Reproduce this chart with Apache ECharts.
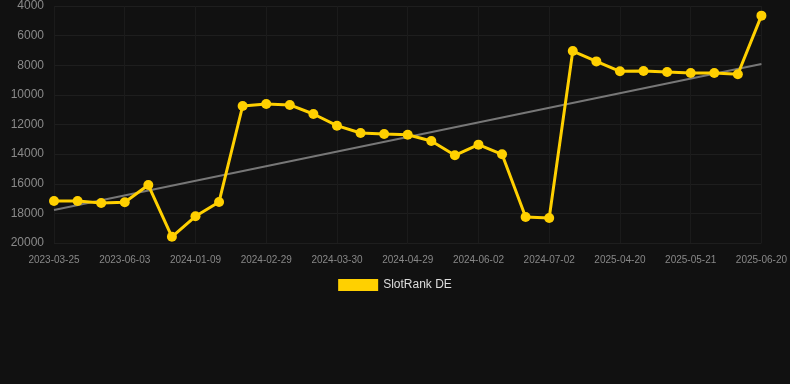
<!DOCTYPE html>
<html><head><meta charset="utf-8">
<script src="https://cdn.jsdelivr.net/npm/echarts@6/dist/echarts.min.js"></script>
<style>html,body{margin:0;padding:0;background:#111111;}#c{width:790px;height:384px;}</style>
</head><body><div id="c"></div>
<script>
const categories = ["2023-03-25","2023-04-18","2023-05-10","2023-06-03","2023-07-20","2023-10-15","2024-01-09","2024-01-27","2024-02-12","2024-02-29","2024-03-10","2024-03-20","2024-03-30","2024-04-09","2024-04-19","2024-04-29","2024-05-10","2024-05-21","2024-06-02","2024-06-12","2024-06-22","2024-07-02","2024-10-01","2025-01-15","2025-04-20","2025-04-30","2025-05-10","2025-05-21","2025-05-31","2025-06-10","2025-06-20"];
const rankValues = [17170,17170,17300,17250,16090,19580,18200,17230,10750,10620,10680,11290,12080,12570,12640,12690,13110,14080,13360,14010,18250,18310,7040,7740,8410,8390,8460,8520,8520,8610,4650];
const trendValues = [17770,null,null,null,null,null,null,null,null,null,null,null,null,null,null,null,null,null,null,null,null,null,null,null,null,null,null,null,null,null,7920];
const yTicks = [4000,20000,2000];
const seriesName = "SlotRank DE";

const chart = echarts.init(document.getElementById('c'));
chart.setOption({
  backgroundColor: '#111111',
  animation: false,
  grid: {left: 54, right: 28, top: 6, bottom: 141, containLabel: false},
  legend: {
    data: [seriesName], bottom: 88, left: 'center',
    itemWidth: 40, itemHeight: 12, icon: 'rect',
    textStyle: {color: '#dddddd', fontSize: 12, fontFamily: 'Liberation Sans, Arial, sans-serif'}
  },
  xAxis: {
    type: 'category', data: categories, boundaryGap: false,
    axisLine: {show: false}, axisTick: {show: false},
    axisLabel: {interval: 2, color: '#888888', fontSize: 10, margin: 12, fontFamily: 'Liberation Sans, Arial, sans-serif'},
    splitLine: {show: true, interval: 2, lineStyle: {color: '#1b1b1b', width: 1}}
  },
  yAxis: {
    type: 'value', inverse: true, min: yTicks[0], max: yTicks[1], interval: yTicks[2],
    axisLine: {show: false}, axisTick: {show: false},
    axisLabel: {color: '#8a8a8a', fontSize: 12, margin: 10, formatter: function(v){return String(v);}, fontFamily: 'Liberation Sans, Arial, sans-serif'},
    splitLine: {lineStyle: {color: '#1e1e1e', width: 1}}
  },
  series: [
    {
      name: seriesName, type: 'line', data: rankValues,
      symbol: 'circle', symbolSize: 10,
      itemStyle: {color: '#ffd000'},
      lineStyle: {color: '#ffd000', width: 3},
      z: 3
    },
    {
      name: 'trend', type: 'line', data: trendValues, connectNulls: true,
      symbol: 'none', lineStyle: {color: '#777777', width: 2}, z: 2
    }
  ]
});
</script></body></html>
